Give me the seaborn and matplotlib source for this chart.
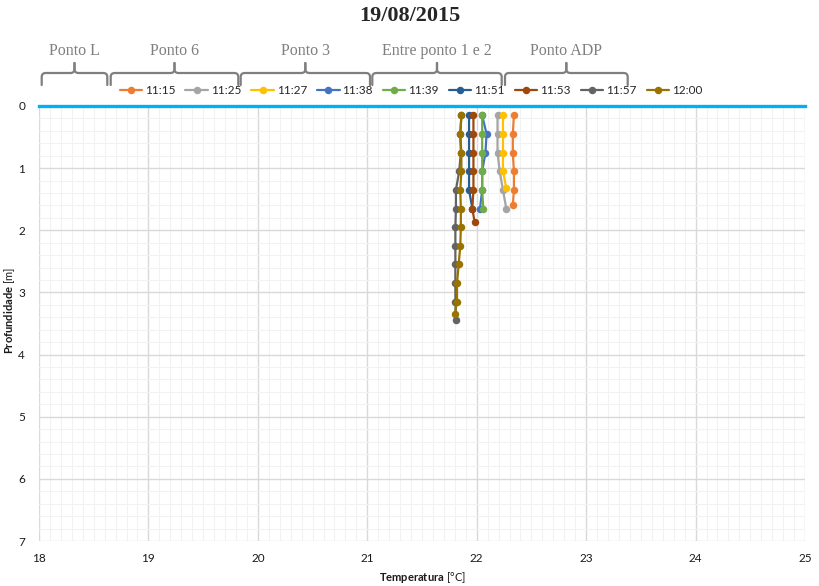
import numpy as np
import pandas as pd
import matplotlib
matplotlib.use("Agg")
import matplotlib.pyplot as plt
from matplotlib.path import Path
from matplotlib.patches import PathPatch
from matplotlib.ticker import MultipleLocator
import seaborn as sns

# ---- data: temperature profiles (depth in m, temperature in degC) ----
times = ["11:15", "11:25", "11:27", "11:38", "11:39", "11:51", "11:53", "11:57", "12:00"]

depth_1115 = [0.15, 0.45, 0.75, 1.05, 1.35, 1.60]
temp_1115 = [22.34, 22.33, 22.33, 22.34, 22.34, 22.33]

depth_1125 = [0.15, 0.45, 0.75, 1.05, 1.35, 1.65]
temp_1125 = [22.19, 22.19, 22.19, 22.21, 22.24, 22.27]

depth_1127 = [0.15, 0.45, 0.75, 1.05, 1.32]
temp_1127 = [22.24, 22.24, 22.24, 22.24, 22.27]

depth_1138 = [0.15, 0.45, 0.75, 1.05, 1.35, 1.65]
temp_1138 = [22.05, 22.09, 22.08, 22.05, 22.05, 22.03]

depth_1139 = [0.15, 0.45, 0.75, 1.05, 1.35, 1.65]
temp_1139 = [22.05, 22.05, 22.05, 22.05, 22.05, 22.06]

depth_1151 = [0.15, 0.45, 0.75, 1.05, 1.35, 1.65]
temp_1151 = [21.93, 21.93, 21.93, 21.93, 21.93, 21.96]

depth_1153 = [0.15, 0.45, 0.75, 1.05, 1.35, 1.65, 1.86]
temp_1153 = [21.97, 21.97, 21.97, 21.97, 21.97, 21.96, 21.98]

depth_1157 = [0.15, 0.45, 0.75, 1.05, 1.35, 1.65, 1.95, 2.25, 2.55, 2.85, 3.15, 3.45]
temp_1157 = [21.86, 21.85, 21.855, 21.84, 21.81, 21.81, 21.805, 21.805, 21.805, 21.805, 21.805, 21.81]

depth_1200 = [0.15, 0.45, 0.75, 1.05, 1.35, 1.65, 1.95, 2.25, 2.55, 2.85, 3.15, 3.35]
temp_1200 = [21.86, 21.85, 21.86, 21.86, 21.85, 21.855, 21.855, 21.85, 21.835, 21.82, 21.82, 21.80]

site_labels = ["Ponto L", "Ponto 6", "Ponto 3", "Entre ponto 1 e 2", "Ponto ADP"]

profiles = {
    "11:15": (depth_1115, temp_1115),
    "11:25": (depth_1125, temp_1125),
    "11:27": (depth_1127, temp_1127),
    "11:38": (depth_1138, temp_1138),
    "11:39": (depth_1139, temp_1139),
    "11:51": (depth_1151, temp_1151),
    "11:53": (depth_1153, temp_1153),
    "11:57": (depth_1157, temp_1157),
    "12:00": (depth_1200, temp_1200),
}

rows = []
for t in times:
    dd, tt = profiles[t]
    for i, (a, b) in enumerate(zip(dd, tt)):
        rows.append({"hora": t, "ordem": i, "profundidade": a, "temperatura": b})
df = pd.DataFrame(rows)

colors = ["#ED7D31", "#A5A5A5", "#FFC000", "#4472C4", "#70AD47",
          "#255E91", "#9E480E", "#636363", "#997300"]
palette = dict(zip(times, colors))

# ---- figure ----
W, H = 819, 586
sns.set_theme(style="white")
plt.rcParams["font.family"] = ["Lato", "DejaVu Sans"]
plt.rcParams["mathtext.fontset"] = "custom"
plt.rcParams["mathtext.bf"] = "Lato:bold"
plt.rcParams["mathtext.rm"] = "Lato"

fig = plt.figure(figsize=(W / 100, H / 100), dpi=100)
fig.patch.set_facecolor("white")

def px_x(x):
    return x / W

def px_y(y):
    return 1 - y / H

left, right, top, bottom = 39, 805, 106, 541
ax = fig.add_axes([px_x(left), px_y(bottom), (right - left) / W, (bottom - top) / H])

sns.lineplot(data=df, x="temperatura", y="profundidade", hue="hora",
             hue_order=times, palette=palette, units="hora", estimator=None,
             sort=False, marker="o", markersize=5.4, markeredgewidth=0,
             linewidth=1.6, ax=ax, legend=True)

ax.set_xlim(18, 25)
ax.set_ylim(7, 0)
ax.xaxis.set_major_locator(MultipleLocator(1))
ax.xaxis.set_minor_locator(MultipleLocator(0.1))
ax.yaxis.set_major_locator(MultipleLocator(1))
ax.yaxis.set_minor_locator(MultipleLocator(0.2))
ax.grid(which="major", color="#D9D9D9", linewidth=1.0)
ax.grid(which="minor", color="#F2F2F2", linewidth=0.8)
ax.set_axisbelow(True)
ax.tick_params(axis="both", which="both", length=0, labelsize=8.5, colors="#1a1a1a")
ax.tick_params(axis="x", pad=9)
ax.tick_params(axis="y", pad=10)

for s in ["left", "right", "bottom"]:
    ax.spines[s].set_visible(False)
ax.spines["top"].set_color("#00B0F0")
ax.spines["top"].set_linewidth(2.4)

ax.set_xlabel(r"$\mathbf{Temperatura}$ [°C]", fontsize=8, labelpad=4, color="#1a1a1a")
ax.set_ylabel(r"$\mathbf{Profundidade}$ [m]", fontsize=8, color="#1a1a1a")
ax.yaxis.set_label_coords((17 - left) / (right - left), (bottom - 310) / (bottom - top))

# legend row above the plot
handles, labels = ax.get_legend_handles_labels()
ax.get_legend().remove()
fig.legend(handles, labels, loc="center", ncol=9, frameon=False,
           bbox_to_anchor=(px_x(411), px_y(91)), fontsize=8.5,
           handlelength=1.9, handletextpad=0.25, columnspacing=0.85)

# title
fig.text(0.5, px_y(16), "19/08/2015", ha="center", va="center",
         fontsize=16, fontweight="bold", family="Liberation Serif")

# site braces above the legend
brace_spans = [(41.7, 107.3), (110.7, 238.3), (240.7, 370.0), (372.3, 501.7), (505.0, 627.7)]
y_leg, y_bar, y_tip, r = 85.0, 73.0, 63.0, 4.0

def half_brace(xe, xm, y_leg, y_bar, y_tip, r):
    s = 1 if xm > xe else -1
    verts = [
        (xe, y_leg), (xe, y_bar + r),
        (xe, y_bar), (xe + s * r, y_bar),
        (xm - s * r, y_bar),
        (xm, y_bar), (xm, y_bar - r),
        (xm, y_tip),
    ]
    codes = [Path.MOVETO, Path.LINETO, Path.CURVE3, Path.CURVE3,
             Path.LINETO, Path.CURVE3, Path.CURVE3, Path.LINETO]
    verts = [(px_x(a), px_y(b)) for a, b in verts]
    return Path(verts, codes)

for (x0, x1), lab in zip(brace_spans, site_labels):
    xm = (x0 + x1) / 2
    for xe in (x0, x1):
        p = half_brace(xe, xm, y_leg, y_bar, y_tip, r)
        fig.add_artist(PathPatch(p, transform=fig.transFigure, fill=False,
                                 edgecolor="#7F7F7F", linewidth=1.6,
                                 capstyle="round", joinstyle="round"))
    fig.text(px_x(xm), px_y(51), lab, ha="center", va="center",
             fontsize=11.5, color="#7F7F7F", family="Liberation Serif")

fig.savefig("out.png", dpi=100, facecolor="white")
